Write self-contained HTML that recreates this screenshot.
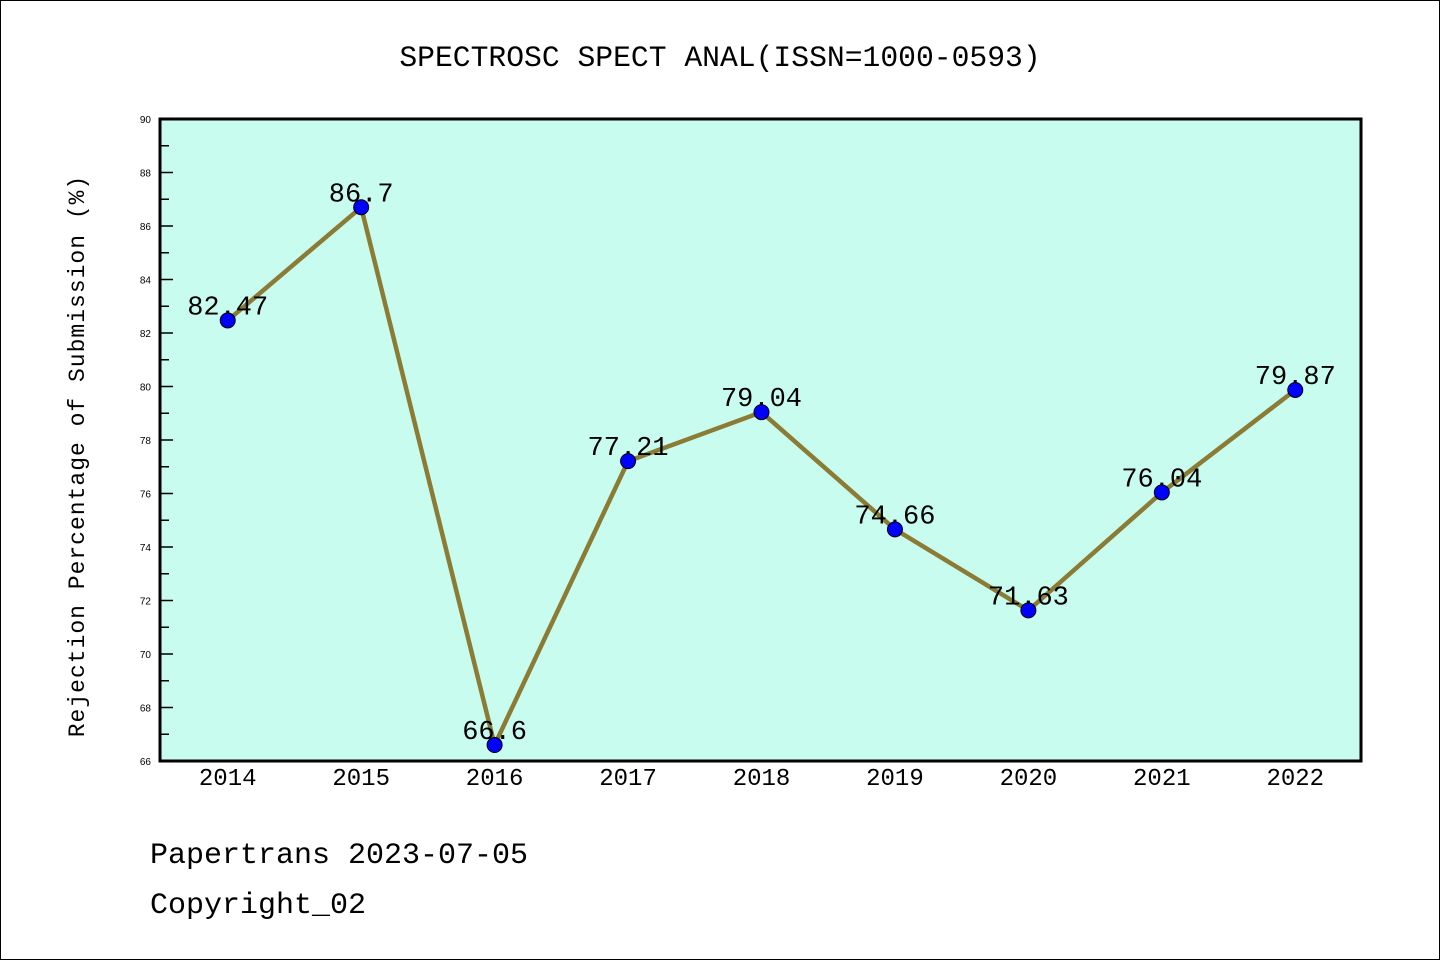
<!DOCTYPE html>
<html><head><meta charset="utf-8"><style>
body{margin:0;background:#fff}
svg{display:block}
text{font-family:"Liberation Mono","Noto Sans CJK SC",monospace}
text.yt{font-family:"Liberation Sans",sans-serif;font-size:10px}
</style></head><body>
<svg id="c" width="1440" height="960">
<rect x="0.5" y="0.5" width="1439" height="959" fill="#fff" stroke="#000"/>
<text x="720" y="66" font-size="29.7" text-anchor="middle">SPECTROSC SPECT ANAL(ISSN=1000-0593)</text>
<rect x="160" y="119" width="1201" height="642" fill="#c8fcef"/>
<g id="ticks"></g>
<g id="series"></g>
<rect x="160" y="119" width="1201" height="642" fill="none" stroke="#000" stroke-width="3"/>
<text transform="translate(84,456) rotate(-90)" font-size="23" text-anchor="middle" letter-spacing="1">Rejection Percentage of Submission (%)</text>
<text x="150" y="863" font-size="30">Papertrans 2023-07-05</text>
<text x="150" y="913" font-size="30">Copyright_02</text>
</svg>
<script>
const categories=["2014","2015","2016","2017","2018","2019","2020","2021","2022"];
const values=[82.47,86.7,66.6,77.21,79.04,74.66,71.63,76.04,79.87];
const labels=["82.47","86.7","66.6","77.21","79.04","74.66","71.63","76.04","79.87"];
const yTicks=[66,68,70,72,74,76,78,80,82,84,86,88,90];
const NS="http://www.w3.org/2000/svg";
const L=160,R=1361,T=119,B=761,ymin=66,ymax=90;
const step=(R-L)/categories.length;
const xs=i=>L+step*(i+0.5)+1;
const ys=v=>B-(v-ymin)/(ymax-ymin)*(B-T);
function mk(t,a,p){const e=document.createElementNS(NS,t);for(const k in a)e.setAttribute(k,a[k]);p.appendChild(e);return e;}
const tg=document.getElementById('ticks'),sg=document.getElementById('series');
for(let v=ymin;v<=ymax;v++){
  const major=v%2===0;
  const ln=mk('line',{x1:L,x2:L+(major?13:9),y1:ys(v),y2:ys(v),stroke:'#000','stroke-width':1.5},tg);
  
  
}
yTicks.forEach(v=>{
  const t=mk('text',{x:151,y:ys(v)+4,'text-anchor':'end','class':'yt',style:'font-family:"Liberation Sans",sans-serif;font-size:10px'},tg);t.textContent=v;
  
  
});
categories.forEach((c,i)=>{
  const t=mk('text',{x:xs(i),y:785,'font-size':24,'text-anchor':'middle'},tg);t.textContent=c;
  
  
});
const pl=mk('polyline',{points:values.map((v,i)=>xs(i)+','+ys(v)).join(' '),fill:'none',stroke:'#8b7b35','stroke-width':4.5},sg);


values.forEach((v,i)=>{
  const t=mk('text',{x:xs(i),y:ys(v)-6,'font-size':27,'text-anchor':'middle'},sg);t.textContent=labels[i];
  
  
});
values.forEach((v,i)=>{
  const c=mk('circle',{cx:xs(i),cy:ys(v),r:7.5,fill:'#0000ff',stroke:'#000','stroke-width':1},sg);
  
  
});
</script>
</body></html>
